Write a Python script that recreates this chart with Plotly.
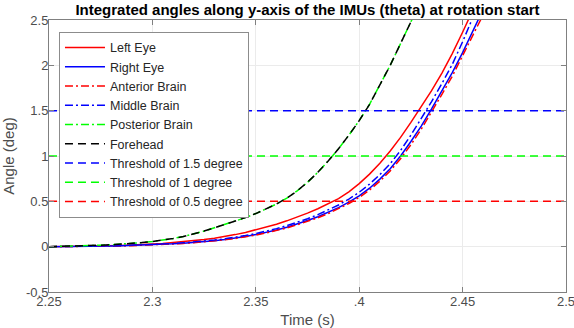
import plotly.graph_objects as go

# Time grid (s), 5 ms steps
time = [2.250, 2.255, 2.260, 2.265, 2.270, 2.275, 2.280, 2.285, 2.290, 2.295,
        2.300, 2.305, 2.310, 2.315, 2.320, 2.325, 2.330, 2.335, 2.340, 2.345,
        2.350, 2.355, 2.360, 2.365, 2.370, 2.375, 2.380, 2.385, 2.390, 2.395,
        2.400, 2.405, 2.410, 2.415, 2.420, 2.425, 2.430, 2.435, 2.440, 2.445,
        2.450, 2.455, 2.460, 2.465]

left_eye = [0.000, 0.001, 0.002, 0.003, 0.005, 0.007, 0.010, 0.014, 0.018, 0.022,
            0.028, 0.036, 0.045, 0.055, 0.066, 0.079, 0.094, 0.112, 0.133, 0.157,
            0.185, 0.215, 0.248, 0.285, 0.325, 0.370, 0.418, 0.470, 0.530, 0.605,
            0.695, 0.800, 0.920, 1.055, 1.205, 1.370, 1.540, 1.720, 1.915, 2.130,
            2.365, 2.610, 2.860]

right_eye = [0.000, 0.000, 0.001, 0.002, 0.003, 0.005, 0.007, 0.009, 0.012, 0.016,
             0.020, 0.025, 0.031, 0.038, 0.046, 0.055, 0.066, 0.079, 0.094, 0.112,
             0.133, 0.157, 0.184, 0.215, 0.250, 0.288, 0.330, 0.377, 0.430, 0.492,
             0.560, 0.645, 0.745, 0.860, 1.000, 1.160, 1.330, 1.520, 1.720, 1.920,
             2.140, 2.370, 2.610, 2.860]

anterior_brain = [0.000, 0.000, 0.001, 0.002, 0.003, 0.004, 0.006, 0.008, 0.011, 0.015,
                  0.019, 0.024, 0.030, 0.036, 0.044, 0.053, 0.063, 0.076, 0.090, 0.107,
                  0.128, 0.151, 0.177, 0.207, 0.241, 0.278, 0.319, 0.364, 0.416, 0.476,
                  0.543, 0.625, 0.722, 0.835, 0.970, 1.125, 1.295, 1.480, 1.680, 1.880,
                  2.100, 2.320, 2.560, 2.800]

middle_brain = [0.000, 0.000, 0.001, 0.002, 0.004, 0.006, 0.008, 0.011, 0.014, 0.018,
                0.022, 0.028, 0.034, 0.042, 0.051, 0.061, 0.073, 0.087, 0.103, 0.122,
                0.145, 0.170, 0.199, 0.232, 0.268, 0.308, 0.353, 0.403, 0.460, 0.525,
                0.600, 0.690, 0.795, 0.915, 1.060, 1.230, 1.410, 1.600, 1.800, 2.010,
                2.260, 2.540, 2.800]

posterior_brain = [0.000, 0.002, 0.005, 0.008, 0.012, 0.016, 0.021, 0.027, 0.035, 0.045,
                   0.057, 0.072, 0.090, 0.113, 0.140, 0.172, 0.208, 0.245, 0.280, 0.320,
                   0.365, 0.415, 0.470, 0.535, 0.615, 0.710, 0.820, 0.945, 1.080, 1.230,
                   1.390, 1.570, 1.780, 2.000, 2.240, 2.480, 2.720]

forehead = [0.000, 0.002, 0.005, 0.008, 0.012, 0.016, 0.021, 0.027, 0.035, 0.045,
            0.057, 0.072, 0.090, 0.113, 0.140, 0.172, 0.208, 0.245, 0.280, 0.320,
            0.365, 0.415, 0.470, 0.535, 0.615, 0.710, 0.820, 0.945, 1.080, 1.230,
            1.390, 1.570, 1.780, 2.000, 2.240, 2.480, 2.720]

threshold_time = [2.25, 2.5]
thresholds = [1.5, 1.0, 0.5]

x_tick_vals = [2.25, 2.30, 2.35, 2.40, 2.45, 2.50]
x_tick_text = ["2.25", "2.3", "2.35", ".4", "2.45", "2.5"]
y_tick_vals = [-0.5, 0, 0.5, 1, 1.5, 2, 2.5]
y_tick_text = ["-0.5", "0", "0.5", "1", "1.5", "2", "2.5"]

DASH = "8px,5px"
DASHDOT = "8px,3px,2px,3px"
LW = 1.5

fig = go.Figure()

series = [
    ("Left Eye", left_eye, "#ff0000", "solid"),
    ("Right Eye", right_eye, "#0000ff", "solid"),
    ("Anterior Brain", anterior_brain, "#ff0000", DASHDOT),
    ("Middle Brain", middle_brain, "#0000ff", DASHDOT),
    ("Posterior Brain", posterior_brain, "#00ff00", DASHDOT),
    ("Forehead", forehead, "#000000", DASH),
]
for name, vals, color, dash in series:
    fig.add_trace(go.Scatter(x=time[:len(vals)], y=vals, mode="lines", name=name,
                             line=dict(color=color, width=LW, dash=dash)))

thr_names = ["Threshold of 1.5 degree", "Threshold of 1 degree", "Threshold of 0.5 degree"]
thr_colors = ["#0000ff", "#00ff00", "#ff0000"]
for name, val, color in zip(thr_names, thresholds, thr_colors):
    fig.add_trace(go.Scatter(x=threshold_time, y=[val] * len(threshold_time), mode="lines",
                             name=name, line=dict(color=color, width=LW, dash=DASH)))

FONT = "Liberation Sans, Arial, sans-serif"
axis_color = "#808080"
tick_font = dict(family=FONT, size=13, color="#4d4d4d")

fig.update_layout(
    width=574, height=328,
    margin=dict(l=49, r=8, t=20, b=36, autoexpand=False),
    paper_bgcolor="white", plot_bgcolor="white",
    font=dict(family=FONT, color="#262626"),
    title=dict(text="<b>Integrated angles along y-axis of the IMUs (theta) at rotation start</b>",
               xref="paper", x=0.5, xanchor="center",
               yref="container", y=1 - 10 / 328, yanchor="middle",
               font=dict(size=15, color="#000000")),
    showlegend=True,
    legend=dict(x=0.0193, y=0.956, xanchor="left", yanchor="top",
                bgcolor="white", bordercolor="#8c8c8c", borderwidth=1,
                font=dict(size=12.5, color="#262626"), itemwidth=40,
                tracegroupgap=0),
    xaxis=dict(range=[2.25, 2.5], tickvals=x_tick_vals, ticktext=x_tick_text,
               showgrid=True, gridcolor="#ebebeb", gridwidth=1, zeroline=False,
               showline=True, linecolor=axis_color, linewidth=1, mirror="ticks",
               ticks="inside", ticklen=5, tickcolor=axis_color, tickfont=tick_font,
               ticklabelstandoff=-3, ticklabeloverflow="allow",
               title=dict(text="Time (s)", font=dict(family=FONT, size=15, color="#4d4d4d"))),
    yaxis=dict(range=[-0.5, 2.5], tickvals=y_tick_vals, ticktext=y_tick_text,
               showgrid=True, gridcolor="#ebebeb", gridwidth=1, zeroline=False,
               showline=True, linecolor=axis_color, linewidth=1, mirror="ticks",
               ticks="inside", ticklen=5, tickcolor=axis_color, tickfont=tick_font,
               ticklabelstandoff=-3, ticklabeloverflow="allow",
               title=dict(text="Angle (deg)", font=dict(family=FONT, size=15, color="#4d4d4d"))),
)

fig.write_html("out.html",
               config={"displayModeBar": False},
               post_script="document.body.style.margin='0';document.body.style.overflow='hidden';")
